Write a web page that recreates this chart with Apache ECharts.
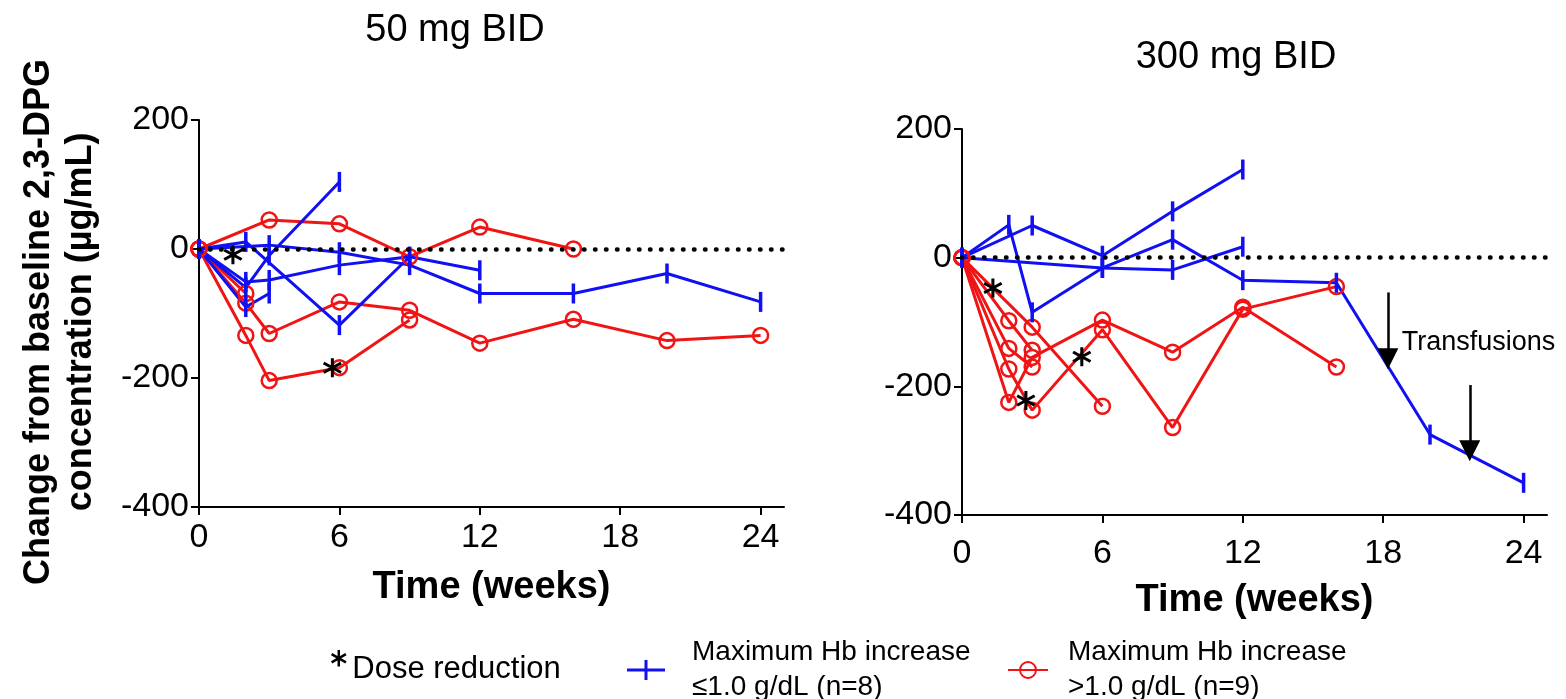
<!DOCTYPE html>
<html><head><meta charset="utf-8">
<script src="https://cdn.jsdelivr.net/npm/echarts@6/dist/echarts.min.js"></script>
<style>html,body{margin:0;padding:0;background:#fff}#c{width:1566px;height:699px}</style>
</head><body><div id="c"></div>
<script>
// ---------- data ----------
const xTicks = [0, 6, 12, 18, 24];
const yTicks = [-400, -200, 0, 200];
const panelTitles = ['50 mg BID', '300 mg BID'];
const xName = 'Time (weeks)';
const yName = 'Change from baseline 2,3-DPG\nconcentration (\u00b5g/mL)';
const blueName = 'Maximum Hb increase\n\u22641.0 g/dL (n=8)';
const redName = 'Maximum Hb increase\n>1.0 g/dL (n=9)';
const doseName = 'Dose reduction';
const transfusionText = 'Transfusions';

// 50 mg BID  [week, change]
const left_blue_1 = [[0,0],[3,6],[6,-5],[9,-25],[12,-69],[16,-69],[20,-38],[24,-82]];
const left_blue_2 = [[0,0],[2,11],[6,-118],[9,-12],[12,-33]];
const left_blue_3 = [[0,0],[2,-60],[3,-10],[6,104]];
const left_blue_4 = [[0,0],[2,-51],[3,-48],[6,-25],[9,-12]];
const left_blue_5 = [[0,0],[2,-90],[3,-69]];
const left_red_1 = [[0,0],[3,45],[6,39],[9,-12],[12,34],[16,0]];
const left_red_2 = [[0,0],[2,-134],[3,-204],[6,-184],[9,-110]];
const left_red_3 = [[0,0],[2,-84],[3,-131],[6,-82],[9,-95],[12,-146],[16,-109],[20,-142],[24,-134]];
const left_red_4 = [[0,0],[2,-69]];
const left_dose = [[1.45,-9],[5.7,-184]];

// 300 mg BID
const right_blue_1 = [[0,0],[2,51],[3,-85],[6,-16],[9,28],[12,-35],[16,-39],[20,-275],[24,-350]];
const right_blue_2 = [[0,0],[3,50],[6,3],[9,72],[12,137]];
const right_blue_3 = [[0,0],[6,-16],[9,-19],[12,17]];
const right_red_1 = [[0,0],[3,-108],[6,-231]];
const right_red_2 = [[0,0],[2,-173],[3,-237],[6,-112],[9,-264],[12,-80],[16,-45]];
const right_red_3 = [[0,0],[2,-225],[3,-155],[6,-97],[9,-147],[12,-77],[16,-170]];
const right_red_4 = [[0,0],[2,-98],[3,-144]];
const right_red_5 = [[0,0],[2,-141],[3,-170]];
const right_dose = [[1.32,-47],[2.73,-222],[5.12,-154]];
// [week, start value, tip value]
const transfusionArrows = [[18.2,-54,-157],[21.7,-198,-300]];
const transfusionLabelPos = [[18.79,-132]];

const leftBlue = [left_blue_1,left_blue_2,left_blue_3,left_blue_4,left_blue_5];
const leftRed = [left_red_1,left_red_2,left_red_3,left_red_4];
const rightBlue = [right_blue_1,right_blue_2,right_blue_3];
const rightRed = [right_red_1,right_red_2,right_red_3,right_red_4,right_red_5];

// ---------- style ----------
const F = '"Liberation Sans", Arial, Helvetica, sans-serif';
const BLUE = '#1010f2';
const RED = '#f01414';
const INK = '#000';
const ASTER = 'path://M8.5,0L8.5,20L11.5,20L11.5,0ZM0.59,6.3L17.91,16.3L19.41,13.7L2.09,3.7ZM17.91,3.7L0.59,13.7L2.09,16.3L19.41,6.3Z';
const ASTER_LEGEND = ASTER + 'M10,46Z';
const PLUS = 'path://M0,8.5L38,8.5L38,11.5L0,11.5ZM17.5,0L20.5,0L20.5,20L17.5,20Z';

function xAx(gi, margin, gap) {
  return {
    type: 'value', gridIndex: gi, min: 0, max: 25, interval: 6,
    axisLine: { show: true, onZero: false, lineStyle: { color: INK, width: 2 } },
    axisTick: { show: true, length: 8, customValues: xTicks, lineStyle: { color: INK, width: 2 } },
    axisLabel: { customValues: xTicks, fontSize: 34, color: INK, margin: margin, fontFamily: F },
    splitLine: { show: false },
    name: xName, nameLocation: 'middle', nameGap: gap,
    nameTextStyle: { fontSize: 38, fontWeight: 'bold', color: INK, fontFamily: F }
  };
}
function yAx(gi) {
  return {
    type: 'value', gridIndex: gi, min: -400, max: 200, interval: 200,
    axisLine: { show: true, onZero: false, lineStyle: { color: INK, width: 2 } },
    axisTick: { show: true, length: 8, customValues: yTicks, lineStyle: { color: INK, width: 2 } },
    axisLabel: { customValues: yTicks, fontSize: 34, color: INK, margin: 10, fontFamily: F },
    splitLine: { show: false }
  };
}
function blueSeries(d, gi) {
  return { name: blueName, type: 'line', xAxisIndex: gi, yAxisIndex: gi, data: d,
    symbol: 'rect', symbolSize: [3.5, 20], showAllSymbol: true,
    itemStyle: { color: BLUE }, lineStyle: { color: BLUE, width: 3 }, z: 3 };
}
function redSeries(d, gi) {
  return { name: redName, type: 'line', xAxisIndex: gi, yAxisIndex: gi, data: d,
    symbol: 'circle', symbolSize: 15, showAllSymbol: true,
    itemStyle: { color: 'rgba(255,255,255,0)', borderColor: RED, borderWidth: 2.5 },
    lineStyle: { color: RED, width: 3 }, z: 3 };
}
const zeroLine = {
  silent: true, symbol: ['none', 'none'], label: { show: false },
  lineStyle: { color: INK, type: [0.5, 10.5], cap: 'round', width: 4.5, opacity: 1 },
  emphasis: { disabled: true },
  data: [{ yAxis: 0 }]
};

const series = [];
leftRed.forEach((d, i) => { const s = redSeries(d, 0); if (i === 0) s.markLine = zeroLine; series.push(s); });
leftBlue.forEach(d => series.push(blueSeries(d, 0)));
rightRed.forEach((d, i) => { const s = redSeries(d, 1); if (i === 0) s.markLine = zeroLine; series.push(s); });
rightBlue.forEach(d => series.push(blueSeries(d, 1)));
[left_dose, right_dose].forEach((d, gi) => series.push({
  name: doseName, type: 'scatter', xAxisIndex: gi, yAxisIndex: gi, data: d,
  symbol: ASTER, symbolSize: 19, itemStyle: { color: INK, opacity: 1 }, z: 5
}));
series.push({
  name: 'transfusions', type: 'scatter', xAxisIndex: 1, yAxisIndex: 1,
  data: transfusionLabelPos, symbol: 'circle', symbolSize: 0, silent: true,
  itemStyle: { opacity: 1 },
  label: { show: true, position: 'right', distance: 0, formatter: transfusionText,
    fontSize: 27, color: INK, fontFamily: F, opacity: 1 },
  markLine: {
    silent: true, symbol: ['none', 'triangle'], symbolSize: 21,
    label: { show: false }, lineStyle: { color: INK, type: 'solid', width: 2.5, opacity: 1 },
    itemStyle: { color: INK },
    emphasis: { disabled: true },
    data: transfusionArrows.map(a => [{ coord: [a[0], a[1]] }, { coord: [a[0], a[2]] }])
  }
});

const option = {
  animation: false,
  backgroundColor: '#fff',
  grid: [
    { left: 199, top: 120, width: 585, height: 387 },
    { left: 962, top: 129, width: 585, height: 386 }
  ],
  xAxis: [xAx(0, 14, 62), xAx(1, 22, 67)],
  yAxis: [yAx(0), yAx(1)],
  legend: [
    { data: [{ name: doseName, icon: ASTER_LEGEND, itemStyle: { color: INK } }], left: 326, top: 645,
      itemWidth: 17, itemHeight: 38, selectedMode: false,
      textStyle: { fontSize: 31, color: INK, fontFamily: F, padding: [0, 0, 0, 0] } },
    { data: [{ name: blueName, icon: PLUS, itemStyle: { color: BLUE } }], left: 622, top: 630,
      itemWidth: 38, itemHeight: 20, selectedMode: false,
      textStyle: { fontSize: 28, lineHeight: 35, color: INK, fontFamily: F, padding: [0, 0, 0, 22] } },
    { data: [{ name: redName }], left: 1002, top: 630,
      itemWidth: 40, itemHeight: 20, selectedMode: false,
      textStyle: { fontSize: 28, lineHeight: 35, color: INK, fontFamily: F, padding: [0, 0, 0, 15] } }
  ],
  graphic: [
    { type: 'text', x: 455, y: 31, style: { text: panelTitles[0], font: '38px ' + F, fill: INK, textAlign: 'center', textVerticalAlign: 'middle' } },
    { type: 'text', x: 1236, y: 58, style: { text: panelTitles[1], font: '38px ' + F, fill: INK, textAlign: 'center', textVerticalAlign: 'middle' } },
    { type: 'text', x: 60, y: 322, rotation: Math.PI / 2,
      style: { text: yName, font: 'bold 36px ' + F, fill: INK, textAlign: 'center', textVerticalAlign: 'middle', lineHeight: 42 } }
  ],
  series: series
};
const chart = echarts.init(document.getElementById('c'), null, { renderer: 'canvas' });
chart.setOption(option);
</script></body></html>
